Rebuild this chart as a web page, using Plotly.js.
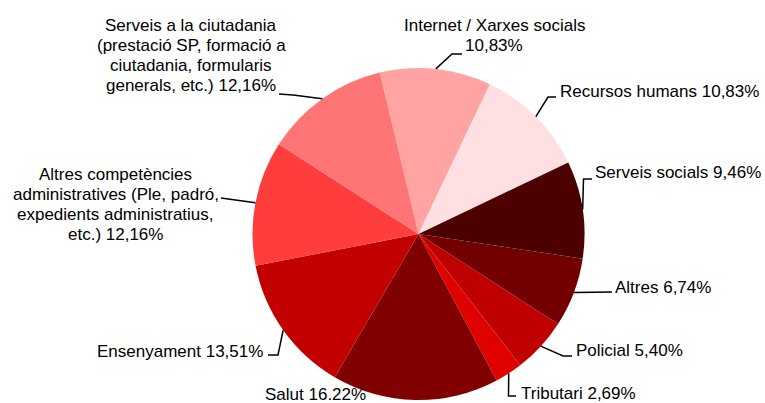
<!DOCTYPE html>
<html>
<head>
<meta charset="utf-8">
<script src="https://cdn.plot.ly/plotly-3.0.1.min.js"></script>
<style>html,body{margin:0;padding:0;background:#fff;}#chart{width:765px;height:403px;}</style>
</head>
<body>
<div id="chart"></div>
<script>
// ---- data ----
var categories = [
  "Internet / Xarxes socials",
  "Recursos humans",
  "Serveis socials",
  "Altres",
  "Policial",
  "Tributari",
  "Salut",
  "Ensenyament",
  "Altres competències administratives (Ple, padró, expedients administratius, etc.)",
  "Serveis a la ciutadania (prestació SP, formació a ciutadania, formularis generals, etc.)"
];
var values = [10.83, 10.83, 9.46, 6.74, 5.40, 2.69, 16.22, 13.51, 12.16, 12.16];
var labelLines = [
  ["Internet / Xarxes socials", "10,83%"],
  ["Recursos humans 10,83%"],
  ["Serveis socials 9,46%"],
  ["Altres 6,74%"],
  ["Policial 5,40%"],
  ["Tributari 2,69%"],
  ["Salut 16.22%"],
  ["Ensenyament 13,51%"],
  ["Altres competències", "administratives (Ple, padró,", "expedients administratius,", "etc.) 12,16%"],
  ["Serveis a la ciutadania", "(prestació SP, formació a", "ciutadania, formularis", "generals, etc.) 12,16%"]
];
var colors = ["#FFA3A3", "#FFE0E2", "#4C0000", "#720000", "#BF0000", "#E00000", "#800000", "#C20000", "#FF3D3D", "#FF7575"];

// ---- layout constants (pixels) ----
var W = 765, H = 403;
var CX = 418.5, CY = 234, R = 166;
var ROT = -13.5;
// leader bend points and label placement per slice
var leaderBends = [
  [[452, 54], [462, 54]],
  [[548, 97], [556, 97]],
  [[583.5, 179], [592, 179]],
  [[612, 292]],
  [[563, 356], [572, 356]],
  [[508.5, 396], [516, 396]],
  null,
  [[278, 355], [268, 355]],
  [[221, 198]],
  [[293, 95], [279, 94]]
];
var labelPos = [
  {x: 494, y: 25, anchor: "center"},
  {x: 559, y: 92, anchor: "left"},
  {x: 594, y: 173, anchor: "left"},
  {x: 614, y: 287, anchor: "left"},
  {x: 575, y: 350, anchor: "left"},
  {x: 520, y: 393.5, anchor: "left"},
  {x: 264, y: 394.5, anchor: "left"},
  {x: 264, y: 351.5, anchor: "right"},
  {x: 116, y: 174, anchor: "center"},
  {x: 191, y: 25.5, anchor: "center"}
];
var LINE_H = 20;

function px(x) { return x / W; }
function py(y) { return 1 - y / H; }

var total = values.reduce(function (a, b) { return a + b; }, 0);
var shapes = [], annotations = [];
var cum = 0;
for (var i = 0; i < values.length; i++) {
  var mid = cum + values[i] / 2;
  cum += values[i];
  var ang = (ROT + 360 * mid / total) * Math.PI / 180;
  var ex = CX + R * Math.sin(ang), ey = CY - R * Math.cos(ang);
  if (leaderBends[i]) {
    var d = "M " + px(ex) + "," + py(ey);
    leaderBends[i].forEach(function (p) { d += " L " + px(p[0]) + "," + py(p[1]); });
    shapes.push({type: "path", xref: "paper", yref: "paper", path: d,
      line: {color: "#000", width: 1.5}});
  }
  var lp = labelPos[i];
  labelLines[i].forEach(function (t, k) {
    annotations.push({
      xref: "paper", yref: "paper",
      x: px(lp.x), y: py(lp.y + k * LINE_H),
      xanchor: lp.anchor, yanchor: "middle",
      text: t, showarrow: false, borderpad: 0,
      font: {family: "Arial, 'Liberation Sans', sans-serif", size: 17, color: "#000"}
    });
  });
}

var trace = {
  type: "pie",
  labels: categories,
  values: values,
  sort: false,
  direction: "clockwise",
  rotation: ROT,
  textinfo: "none",
  hoverinfo: "label+percent",
  marker: {colors: colors, line: {width: 0}},
  domain: {x: [px(CX - R), px(CX + R)], y: [py(CY + R), py(CY - R)]},
  showlegend: false
};

var layout = {
  width: W, height: H,
  margin: {l: 0, r: 0, t: 0, b: 0},
  paper_bgcolor: "#fff",
  showlegend: false,
  shapes: shapes,
  annotations: annotations
};

Plotly.newPlot("chart", [trace], layout, {displayModeBar: false, staticPlot: true});
</script>
</body>
</html>
